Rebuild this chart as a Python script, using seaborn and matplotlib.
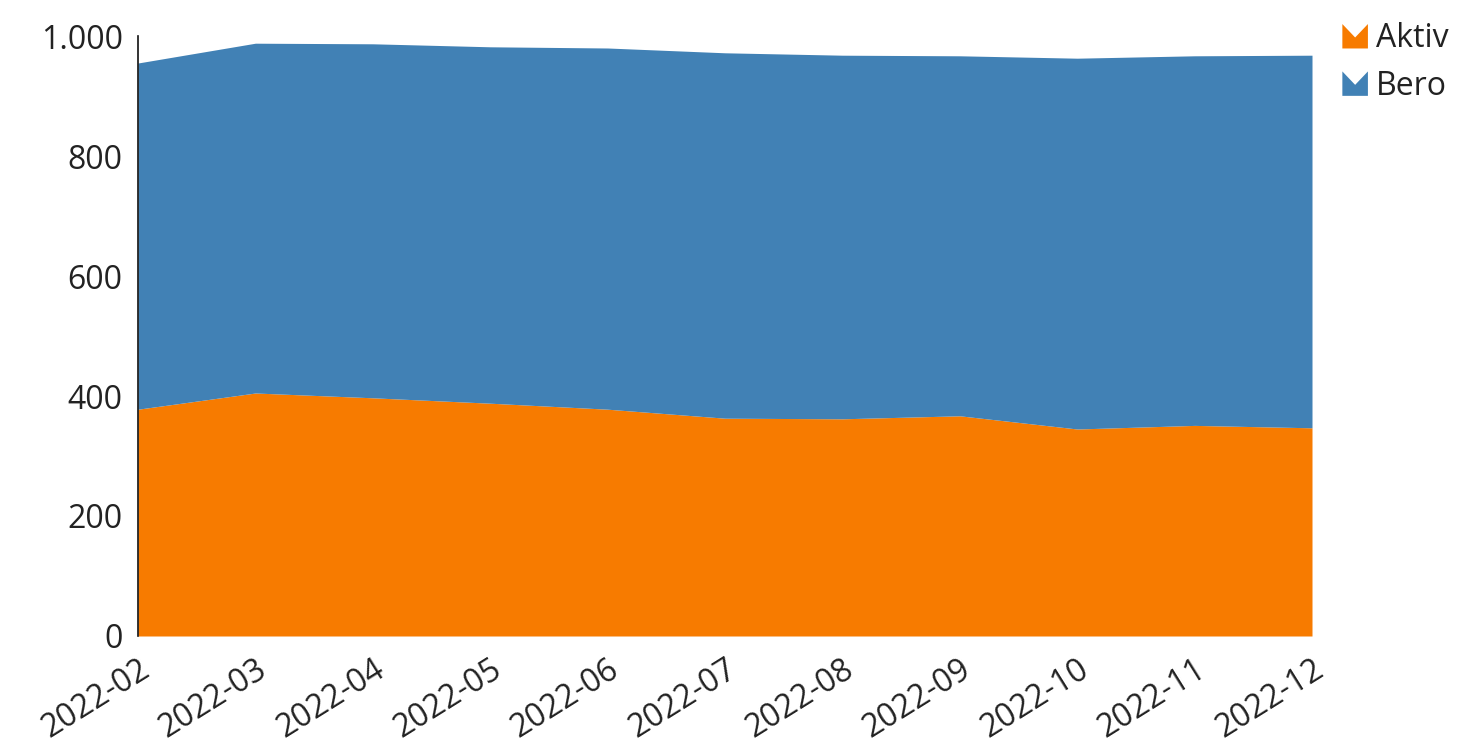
import matplotlib
matplotlib.use("Agg")
import matplotlib.pyplot as plt
import seaborn as sns
import pandas as pd
from matplotlib.patches import Patch, Polygon
from matplotlib.legend_handler import HandlerPatch
from matplotlib.ticker import FuncFormatter

months = ["2022-02", "2022-03", "2022-04", "2022-05", "2022-06", "2022-07",
          "2022-08", "2022-09", "2022-10", "2022-11", "2022-12"]
aktiv = [378, 405, 397, 388, 378, 363, 362, 367, 345, 351, 347]
total = [955, 988, 987, 982, 980, 972, 968, 967, 963, 967, 968]
bero = [t - a for t, a in zip(total, aktiv)]
series_names = ["Aktiv", "Bero"]
colors = ["#F77B00", "#4181B5"]

df = pd.DataFrame({"month": months, "Aktiv": aktiv, "Bero": bero})

sns.set_theme(style="white")
plt.rcParams["font.family"] = ["Open Sans", "DejaVu Sans"]

fig = plt.figure(figsize=(14.58, 7.51), dpi=100)
ax = fig.add_axes([138 / 1458, 1 - 636 / 751, (1312 - 138) / 1458, 600 / 751])

x = list(range(len(months)))
ax.stackplot(x, df["Aktiv"], df["Bero"], colors=colors, linewidth=0)

ax.set_xlim(0, len(months) - 1)
ax.set_ylim(0, 1000)
ax.set_yticks([0, 200, 400, 600, 800, 1000])
ax.yaxis.set_major_formatter(FuncFormatter(lambda v, p: f"{int(v):,}".replace(",", ".")))
ax.set_xticks(x)
ax.set_xticklabels(months, rotation=32, ha="right", rotation_mode="anchor")
ax.tick_params(axis="both", labelsize=23, colors="#222222", length=0)
ax.tick_params(axis="y", pad=11)
ax.tick_params(axis="x", pad=12, labelsize=23)
for s in ["top", "right", "bottom"]:
    ax.spines[s].set_visible(False)
ax.spines["left"].set_color("#111111")
ax.spines["left"].set_linewidth(1.2)
ax.set_xlabel("")
ax.set_ylabel("")


class AreaIconHandler(HandlerPatch):
    def create_artists(self, legend, orig_handle, xdescent, ydescent,
                       width, height, fontsize, trans):
        x0, y0 = -xdescent, -ydescent
        pts = [(x0, y0), (x0 + width, y0), (x0 + width, y0 + height),
               (x0 + width * 0.5, y0 + height * 0.45), (x0, y0 + height)]
        p = Polygon(pts, closed=True, facecolor=orig_handle.get_facecolor(),
                    edgecolor="none", transform=trans)
        return [p]


handles = [Patch(facecolor=c, edgecolor="none") for c in colors]
fig.legend(handles, series_names, loc="upper left",
           bbox_to_anchor=(1320 / 1458, 1 - 0 / 751), frameon=False,
           fontsize=23, handlelength=0.8, handleheight=0.8, handletextpad=0.25,
           labelspacing=0.45, labelcolor="#222222", borderaxespad=0.3,
           handler_map={Patch: AreaIconHandler()})

fig.savefig("out.png", dpi=100, facecolor="white")
